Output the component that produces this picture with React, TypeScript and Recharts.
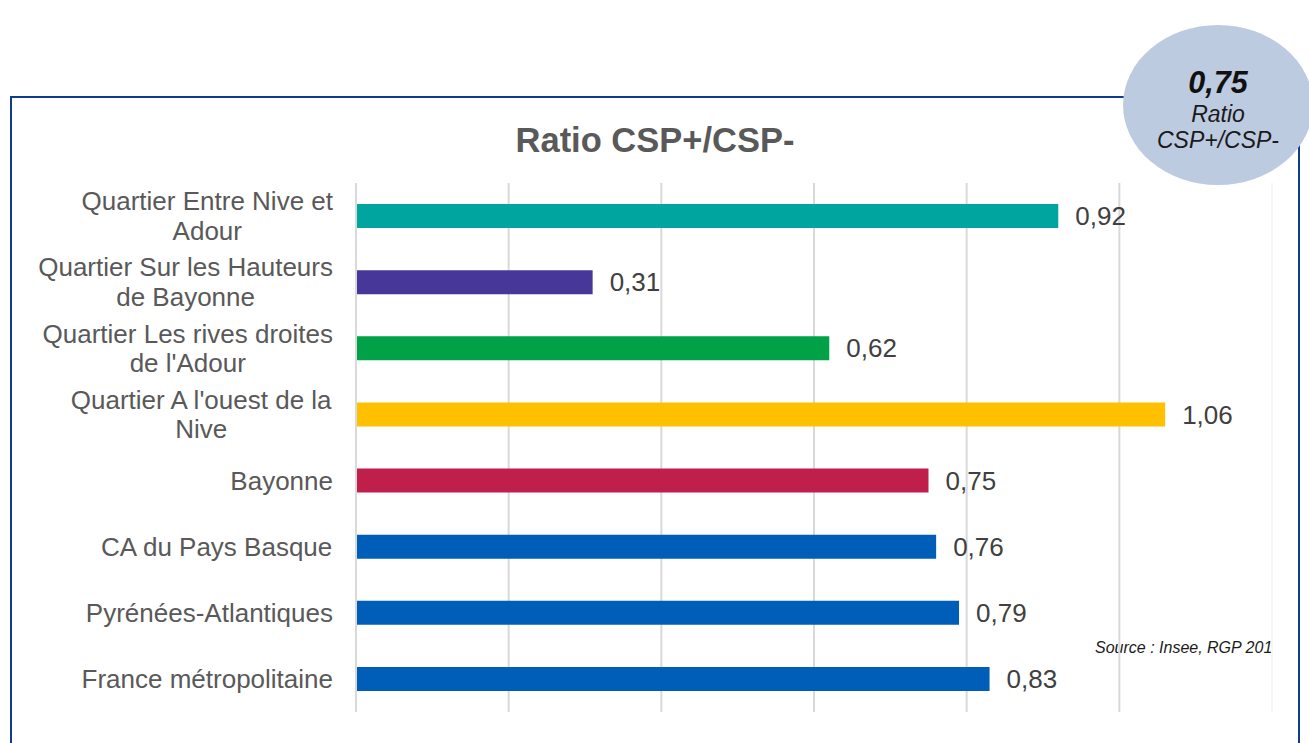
import React from 'react';
import { BarChart, Bar, XAxis, YAxis, Cell, LabelList, CartesianGrid, ReferenceLine } from 'recharts';

// data
const categories = [
  'Quartier Entre Nive et Adour',
  'Quartier Sur les Hauteurs de Bayonne',
  "Quartier Les rives droites de l'Adour",
  "Quartier A l'ouest de la Nive",
  'Bayonne',
  'CA du Pays Basque',
  'Pyrénées-Atlantiques',
  'France métropolitaine',
];
const ratios = [0.92, 0.31, 0.62, 1.06, 0.75, 0.76, 0.79, 0.83];
const barColors = ['#00a59f', '#463799', '#00a147', '#ffc000', '#c01f4b', '#005eb8', '#005eb8', '#005eb8'];
const gridTicks = [0.2, 0.4, 0.6, 0.8, 1.0];
const X_MAX = 1.2;

const title = 'Ratio CSP+/CSP-';
const badgeValue = '0,75';
const badgeLines = ['Ratio', 'CSP+/CSP-'];
const sourceText = 'Source : Insee, RGP 2017';

const rows = categories.map((name, i) => ({ name, value: ratios[i], color: barColors[i] }));

const LABEL_FONT = "26px 'Liberation Sans', Arial, sans-serif";

let ctx: CanvasRenderingContext2D | null = null;
function textWidth(s: string) {
  if (!ctx) {
    ctx = document.createElement('canvas').getContext('2d');
  }
  if (!ctx) return s.length * 13;
  ctx.font = LABEL_FONT;
  return ctx.measureText(s).width;
}

// wrap like Excel does: words packed up to a max width
function wrap(label: string, maxW: number) {
  const words = label.split(' ');
  const lines: string[] = [];
  let cur = '';
  for (const w of words) {
    const next = cur ? cur + ' ' + w : w;
    if (cur && textWidth(next) > maxW) {
      lines.push(cur);
      cur = w;
    } else {
      cur = next;
    }
  }
  if (cur) lines.push(cur);
  return lines;
}

const CategoryTick = (props: any) => {
  const { y, payload } = props;
  const lines = wrap(payload.value, 300);
  const widest = Math.max(...lines.map(textWidth));
  const cx = 333 - widest / 2;
  return (
    <g>
      {lines.map((ln, i) => (
        <text
          key={i}
          x={cx}
          y={y + (i - (lines.length - 1) / 2) * 29.5 + 9}
          textAnchor="middle"
          fill="#595959"
          style={{ font: LABEL_FONT }}
        >
          {ln}
        </text>
      ))}
    </g>
  );
};

const fmt = (v: any) => String(v).replace('.', ',');

// vertical gridlines at the 0.2 steps, positioned within the plot offset
const gridX = ({ offset }: any) => gridTicks.map((t) => offset.left + (t / X_MAX) * offset.width);

export default function App() {
  return (
    <div style={{ position: 'absolute', left: 0, top: 0, width: 1309, height: 743, overflow: 'hidden', background: '#fff', fontFamily: "'Liberation Sans', Arial, sans-serif" }}>
      {/* frame */}
      <div style={{ position: 'absolute', left: 10, top: 96, width: 1286, height: 700, border: '2px solid #0d3c92' }} />

      {/* source note sits under the gridlines */}
      <svg width={1309} height={743} style={{ position: 'absolute', left: 0, top: 0 }}>
        <defs>
          <clipPath id="srcclip">
            <rect x={1080} y={620} width={192} height={50} />
          </clipPath>
        </defs>
        <text x={1095} y={653} clipPath="url(#srcclip)" fill="#1a1a1a" fontStyle="italic" fontSize={16}>
          {sourceText}
        </text>
      </svg>

      <div style={{ position: 'absolute', left: 0, top: 0 }}>
        <BarChart
          width={1309}
          height={743}
          data={rows}
          layout="vertical"
          margin={{ top: 183, right: 37, bottom: 31, left: 0 }}
          barSize={24}
        >
          <CartesianGrid horizontal={false} stroke="#d9d9d9" strokeWidth={2} verticalCoordinatesGenerator={gridX} />
          <XAxis type="number" domain={[0, X_MAX]} ticks={gridTicks} hide />
          <YAxis
            type="category"
            dataKey="name"
            width={356}
            axisLine={{ stroke: '#d9d9d9', strokeWidth: 2 }}
            tickLine={false}
            tick={<CategoryTick />}
            interval={0}
          />
          <ReferenceLine x={X_MAX} stroke="#f6f6f6" strokeWidth={2} />
          <Bar dataKey="value" isAnimationActive={false}>
            {rows.map((r, i) => (
              <Cell key={i} fill={r.color} />
            ))}
            <LabelList dataKey="value" position="right" offset={17} formatter={fmt} fill="#404040" style={{ font: LABEL_FONT }} />
          </Bar>
        </BarChart>
      </div>

      {/* title */}
      <svg width={1309} height={743} style={{ position: 'absolute', left: 0, top: 0, pointerEvents: 'none' }}>
        <text x={655} y={152} textAnchor="middle" fill="#595959" fontWeight="bold" fontSize={34.5}>
          {title}
        </text>
      </svg>

      {/* badge */}
      <div style={{ position: 'absolute', left: 1123, top: 25, width: 190, height: 160, borderRadius: '50%', background: '#bdcbe1' }} />
      <svg width={1309} height={743} style={{ position: 'absolute', left: 0, top: 0, pointerEvents: 'none' }}>
        <text x={1218} y={93} textAnchor="middle" fill="#111" fontWeight="bold" fontStyle="italic" fontSize={30.5}>
          {badgeValue}
        </text>
        {badgeLines.map((ln, i) => (
          <text key={ln} x={1218} y={122 + i * 26} textAnchor="middle" fill="#1a1a1a" fontStyle="italic" fontSize={23}>
            {ln}
          </text>
        ))}
      </svg>
    </div>
  );
}
